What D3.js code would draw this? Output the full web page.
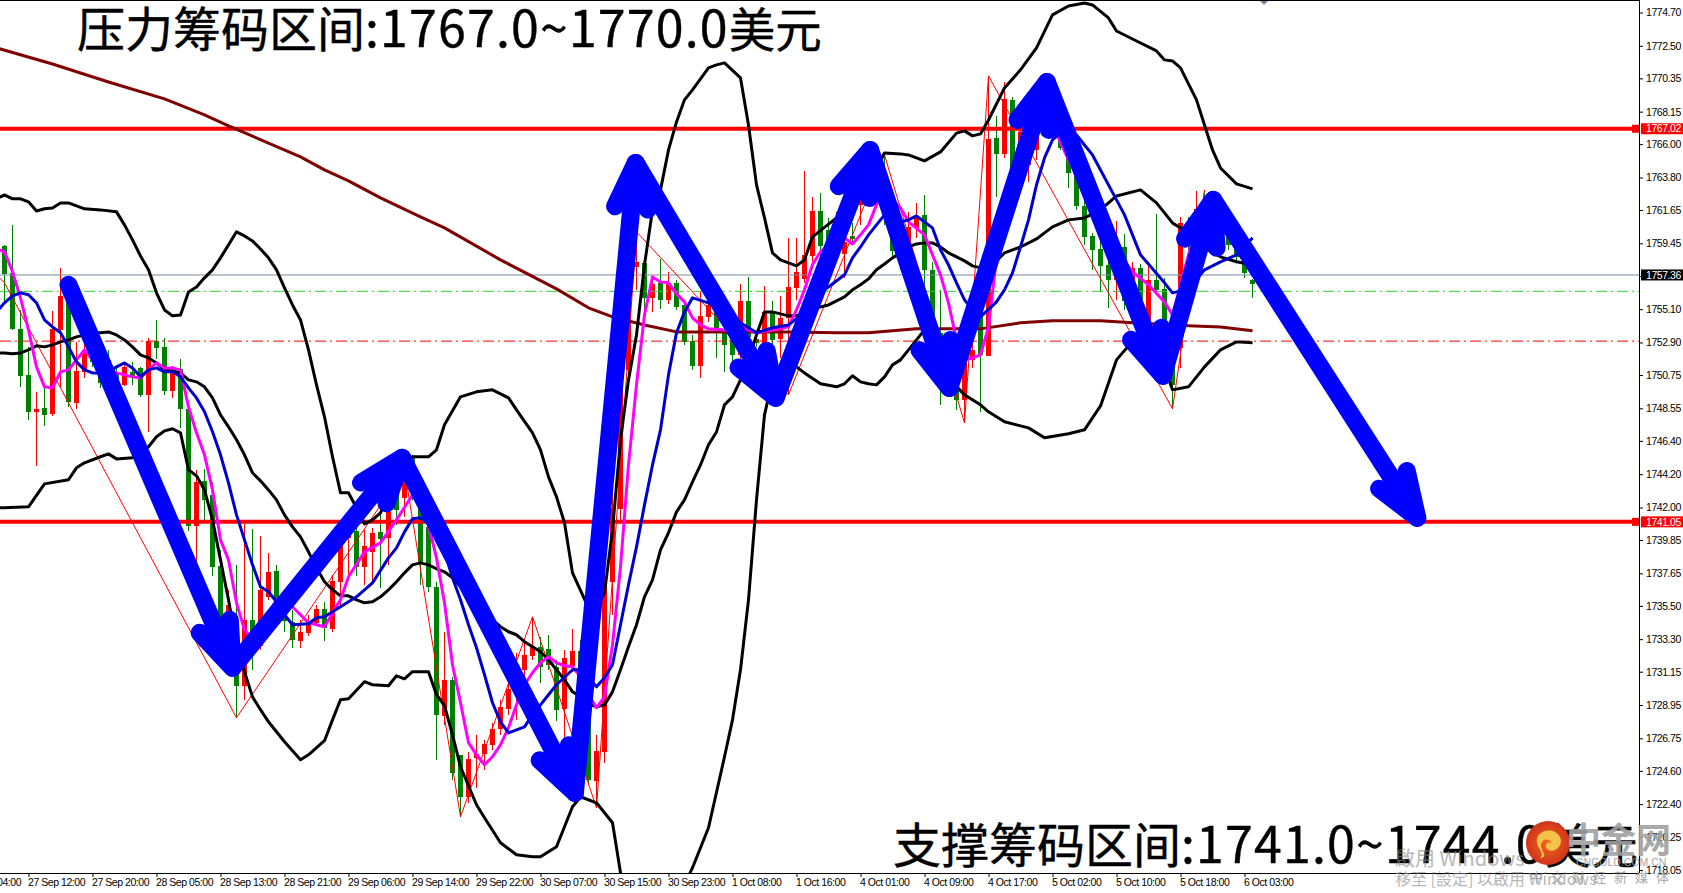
<!DOCTYPE html>
<html>
<head>
<meta charset="utf-8">
<script src="https://cdn.jsdelivr.net/npm/d3@7"></script>
<style>
body { margin: 0; background: #fff; overflow: hidden; }
.axis text { font-family: "Liberation Sans", sans-serif; font-size: 10.5px; letter-spacing: -0.45px; fill: #000; }
.axis line { stroke: #000; }
.big { font-family: "Noto Sans CJK SC", sans-serif; font-size: 48px; fill: #000; stroke: #000; stroke-width: 0.4px; }
.big .num { font-size: 50px; letter-spacing: 1.2px; }
.big .unit { font-size: 46.5px; }
.wm { font-family: "Noto Sans CJK TC", sans-serif; fill: #888; opacity: 0.6; }
.logo { font-family: "Noto Sans CJK SC", sans-serif; fill: #a0a0a0; opacity: 0.9; }
</style>
</head>
<body>
<svg id="svg"></svg>
<script>
var width = 1683, height = 893;

// candles, one entry per bar
var opens = [1759.28,1757.50,1753.80,1750.76,1748.32,1748.58,1748.19,1753.73,1755.91,1748.91,1750.96,1752.28,1751.29,1751.75,1750.83,1750.10,1750.96,1751.22,1749.44,1753.01,
	1752.61,1749.70,1751.16,1748.52,1740.79,1743.76,1742.84,1738.15,1734.25,1734.38,1730.22,1734.58,1732.86,1736.10,1737.82,1735.04,1734.45,1733.19,1733.72,1734.38,
	1735.31,1733.98,1737.09,1739.99,1740.46,1738.08,1739.07,1740.39,1739.99,1742.84,1742.64,1745.28,1742.04,1740.72,1736.76,1728.24,1730.61,1725.66,1722.89,1725.47,
	1725.73,1726.32,1727.38,1728.70,1729.96,1731.28,1732.20,1732.80,1732.66,1731.48,1728.70,1731.54,1732.53,1728.83,1723.95,1725.86,1737.09,1741.91,1751.09,1757.89,
	1758.16,1755.85,1756.84,1755.72,1756.84,1755.38,1753.01,1751.36,1754.59,1754.92,1753.73,1753.73,1752.08,1755.65,1753.14,1752.87,1754.86,1753.14,1754.53,1756.51,
	1757.10,1758.62,1761.59,1760.34,1759.35,1758.75,1759.94,1761.99,1762.85,1763.77,1763.64,1760.54,1759.88,1759.15,1760.47,1761.33,1757.70,1753.53,1750.76,1750.10,
	1749.11,1751.75,1755.05,1752.01,1766.41,1765.36,1768.93,1764.63,1764.63,1765.62,1767.27,1768.60,1766.75,1766.09,1764.17,1761.92,1759.94,1759.08,1758.03,1757.04,
	1759.22,1756.84,1757.83,1753.93,1757.04,1756.44,1754.39,1752.55,1760.80,1759.88,1761.99,1760.67,1761.33,1760.34,1759.68,1758.56,1757.04];
var highs = [1759.35,1760.67,1755.05,1752.61,1749.64,1749.90,1754.99,1757.83,1756.57,1752.94,1753.07,1752.74,1752.08,1752.41,1751.22,1751.49,1751.62,1751.29,1753.21,1754.39,
	1753.21,1751.36,1751.82,1748.78,1744.49,1744.55,1743.69,1739.20,1736.56,1738.21,1740.92,1740.59,1740.13,1739.00,1738.21,1735.90,1735.24,1734.58,1734.91,1735.57,
	1735.77,1737.55,1740.52,1740.85,1741.05,1740.52,1740.66,1741.85,1742.97,1743.50,1744.49,1745.48,1743.63,1741.85,1737.09,1733.79,1730.81,1725.66,1725.86,1726.98,
	1726.65,1727.77,1729.30,1730.61,1732.40,1733.26,1734.78,1733.45,1733.59,1731.94,1732.60,1733.98,1733.26,1729.30,1726.98,1737.75,1744.95,1752.41,1758.89,1760.21,
	1758.49,1757.23,1758.42,1757.56,1757.04,1755.72,1753.40,1756.24,1755.85,1755.45,1754.39,1754.39,1756.77,1757.23,1753.53,1756.64,1755.65,1755.98,1759.81,1759.81,
	1764.24,1762.52,1762.78,1761.13,1761.53,1760.34,1760.80,1763.97,1764.96,1765.49,1765.29,1761.33,1760.67,1761.53,1762.12,1762.65,1758.23,1756.38,1751.75,1750.56,
	1752.08,1752.88,1755.72,1770.51,1767.87,1770.11,1769.12,1767.27,1766.28,1767.93,1769.26,1769.26,1767.27,1766.41,1764.63,1762.32,1760.14,1760.34,1759.35,1760.93,
	1760.07,1758.23,1758.09,1758.23,1761.40,1757.17,1754.72,1761.20,1761.20,1762.92,1762.98,1762.65,1761.99,1760.87,1760.21,1759.02,1757.10];
var lows = [1755.58,1753.70,1749.97,1747.79,1744.75,1747.39,1748.05,1749.97,1748.65,1748.52,1750.56,1751.29,1749.90,1750.17,1749.90,1750.03,1750.10,1749.31,1746.96,1751.82,
	1749.44,1749.24,1747.26,1740.46,1737.68,1741.18,1737.49,1733.26,1732.60,1728.11,1729.30,1731.28,1732.60,1735.90,1735.11,1733.79,1732.73,1732.73,1733.52,1734.18,
	1733.19,1733.79,1735.50,1737.55,1737.49,1736.89,1737.09,1736.69,1738.21,1740.85,1741.38,1742.50,1736.89,1736.43,1725.33,1727.64,1724.01,1721.57,1722.49,1723.48,
	1724.67,1725.99,1726.98,1728.31,1727.97,1729.96,1731.94,1730.42,1731.28,1727.91,1726.45,1731.15,1728.90,1723.68,1722.16,1725.13,1734.91,1741.18,1750.43,1756.38,
	1754.39,1754.92,1755.12,1755.45,1755.05,1752.74,1751.09,1750.56,1754.26,1751.88,1750.96,1751.42,1751.09,1752.74,1752.61,1752.55,1752.41,1751.88,1749.44,1755.72,
	1756.84,1758.23,1758.23,1758.69,1759.02,1757.17,1759.35,1760.67,1761.99,1762.98,1760.67,1758.49,1757.70,1758.69,1759.81,1756.51,1753.07,1748.78,1749.44,1748.45,
	1747.59,1751.22,1748.32,1752.01,1762.52,1765.09,1763.77,1763.97,1763.51,1764.96,1766.61,1766.28,1765.62,1763.11,1761.66,1759.35,1757.70,1756.24,1755.19,1755.72,
	1755.05,1756.38,1755.32,1753.73,1756.05,1753.07,1748.52,1751.22,1758.69,1759.35,1760.34,1760.21,1759.35,1759.02,1758.23,1757.17,1755.85];
var closes = [1757.43,1753.80,1750.70,1748.32,1748.52,1748.12,1753.80,1755.98,1748.98,1751.03,1752.41,1751.62,1750.23,1750.56,1750.23,1751.29,1750.70,1749.44,1753.01,1752.55,
	1749.70,1751.09,1748.52,1740.79,1743.69,1742.50,1738.08,1734.12,1735.57,1730.22,1734.58,1733.06,1736.56,1737.75,1735.44,1734.51,1733.26,1733.79,1734.38,1735.31,
	1734.05,1737.16,1739.66,1740.39,1738.08,1739.47,1740.33,1739.93,1742.70,1741.85,1743.96,1742.97,1738.34,1736.76,1728.31,1730.61,1724.47,1722.89,1725.40,1725.73,
	1726.39,1727.38,1728.83,1730.02,1730.95,1732.27,1732.86,1731.48,1731.61,1728.64,1732.07,1732.53,1729.30,1724.01,1725.93,1737.09,1741.98,1751.09,1757.23,1758.23,
	1755.85,1756.77,1755.72,1756.84,1755.25,1752.94,1751.36,1754.66,1755.38,1753.87,1752.74,1752.08,1755.65,1753.27,1752.87,1754.92,1753.07,1754.53,1756.57,1757.56,
	1758.69,1761.59,1759.28,1759.15,1760.67,1759.55,1759.74,1762.98,1763.97,1764.63,1761.33,1758.95,1758.69,1760.54,1761.13,1757.70,1753.73,1750.76,1750.10,1749.11,
	1751.55,1752.41,1752.08,1766.35,1765.36,1768.99,1764.10,1766.81,1765.62,1767.27,1768.60,1766.75,1765.75,1764.10,1761.92,1759.88,1759.02,1757.96,1757.04,1757.70,
	1755.65,1757.83,1755.72,1757.04,1756.38,1753.93,1750.10,1760.80,1759.48,1761.73,1760.67,1761.66,1760.01,1759.35,1758.56,1757.50,1756.77];

// indicators, bars where each line was read and its price there
var upperBars = [-1,0,1,2,3,4,5,6,7,8,10,12,14,15,16,17,18,19,20,21,22,23,24,25,26,27,28,29,30,31,32,33,34,35,36,37,38,39,40,41,42,43,44,45,46,47,48,49,50,51,53,54,55,57,59,61,63,64,66,67,68,69,70,71,73,74,75,76,77,78,79,80,81,82,83,84,85,86,88,89,90,92,93,94,95,96,97,99,100,101,104,106,108,110,112,113,114,115,117,119,120,121,122,123,125,127,129,131,133,135,136,138,139,141,144,145,146,147,149,150,151,152,154,156];
var upperBand = [1762.39,1762.65,1762.39,1762.39,1762.19,1761.59,1761.73,1761.79,1762.12,1762.12,1761.73,1761.66,1761.53,1760.67,1759.68,1758.62,1757.70,1756.18,1755.05,1754.66,1754.72,1756.24,1756.57,1757.17,1757.70,1758.49,1759.35,1760.21,1759.94,1759.61,1759.08,1758.49,1757.70,1756.51,1755.38,1754.39,1752.41,1750.10,1747.99,1745.35,1742.97,1742.97,1741.98,1740.92,1741.18,1741.65,1742.70,1743.96,1745.15,1745.35,1745.35,1745.81,1747.46,1749.31,1749.64,1749.77,1749.24,1748.45,1746.93,1745.81,1744.02,1742.70,1740.99,1737.68,1735.37,1735.44,1736.36,1740.52,1746.47,1750.43,1753.40,1758.03,1761.66,1762.98,1765.62,1767.47,1768.93,1769.59,1771.04,1771.24,1771.37,1770.38,1767.27,1763.31,1761.13,1758.82,1758.36,1757.96,1758.36,1759.88,1761.13,1761.99,1763.64,1765.42,1765.36,1765.29,1765.09,1764.90,1765.49,1766.73,1766.88,1766.55,1766.68,1767.60,1769.72,1770.91,1772.36,1774.54,1775.13,1775.33,1775.20,1774.34,1773.48,1772.95,1772.16,1771.57,1771.50,1771.04,1768.93,1767.27,1765.62,1764.43,1763.38,1763.05];
var midBars = [-1,0,1,2,3,4,5,6,7,8,9,10,11,12,13,14,15,16,17,18,19,20,21,22,23,24,25,26,27,28,29,30,31,32,33,34,35,36,37,38,39,40,41,42,43,44,45,46,47,48,49,50,51,52,53,54,55,56,57,58,59,60,61,62,63,64,65,66,67,68,69,70,71,72,73,74,75,76,77,78,79,80,81,82,83,84,85,86,87,88,89,90,91,92,93,94,95,96,97,98,99,100,101,103,105,106,107,108,109,110,111,112,113,114,115,116,117,118,119,120,121,122,123,124,125,127,129,130,131,133,135,137,139,142,144,146,148,150,152,154,156];
var midBand = [1752.21,1752.21,1752.15,1752.21,1752.41,1752.68,1752.61,1752.74,1752.94,1753.07,1753.27,1753.40,1753.54,1753.54,1753.60,1753.40,1753.07,1752.61,1752.08,1751.88,1751.55,1751.09,1751.02,1750.89,1750.43,1750.30,1749.97,1749.24,1748.12,1747.33,1746.47,1745.48,1744.29,1743.76,1743.16,1742.50,1741.51,1740.72,1740.06,1739.07,1738.01,1737.09,1736.56,1736.16,1736.16,1735.90,1735.70,1735.77,1736.10,1736.56,1737.09,1737.68,1738.21,1738.34,1738.21,1737.95,1737.75,1737.35,1736.76,1736.03,1735.44,1735.04,1734.58,1734.12,1733.79,1733.59,1733.13,1732.80,1732.47,1731.94,1731.28,1730.61,1729.82,1729.49,1729.03,1728.83,1728.96,1729.82,1731.28,1732.80,1734.25,1736.10,1737.22,1739.20,1740.33,1741.71,1742.50,1743.69,1744.81,1746.14,1746.99,1748.78,1749.31,1750.43,1751.75,1753.40,1754.92,1754.92,1754.79,1754.66,1754.66,1754.86,1755.12,1755.38,1755.91,1756.38,1756.71,1757.10,1757.70,1758.09,1758.49,1758.82,1759.21,1759.41,1759.48,1759.48,1759.21,1758.82,1758.56,1758.29,1757.96,1757.83,1757.76,1758.29,1758.82,1759.21,1759.74,1760.14,1760.54,1761.00,1761.13,1761.66,1762.58,1762.98,1762.12,1760.80,1760.14,1759.15,1758.56,1758.23,1758.03];
var lowerBars = [-1,0,3,5,8,9,10,12,13,14,16,18,19,20,21,22,23,24,25,26,27,28,29,30,31,32,33,35,37,38,40,41,42,43,45,46,48,49,50,51,53,54,55,56,57,59,60,62,64,66,67,69,71,72,74,76,77,78,80,82,84,85,86,88,90,91,92,93,94,95,96,98,99,100,102,104,105,106,107,108,109,110,111,112,113,114,115,116,117,118,120,122,123,125,128,130,133,135,137,139,142,144,146,148,150,152,154,156];
var lowerBand = [1741.98,1741.98,1742.04,1743.56,1743.83,1744.62,1744.95,1745.35,1745.54,1745.21,1745.28,1746.01,1746.67,1747.06,1747.20,1746.93,1744.49,1744.09,1743.16,1741.18,1738.54,1735.90,1732.93,1731.15,1729.49,1728.64,1727.84,1726.52,1725.33,1725.66,1726.59,1727.97,1729.30,1729.36,1730.49,1730.29,1730.22,1730.88,1730.68,1731.15,1731.15,1729.63,1728.90,1726.98,1724.87,1722.36,1721.50,1719.85,1719.06,1718.93,1718.93,1719.59,1722.23,1722.89,1722.49,1721.17,1717.87,1715.76,1713.77,1713.44,1715.76,1717.08,1718.20,1720.84,1725.53,1727.97,1731.28,1735.90,1742.50,1748.12,1750.43,1751.22,1751.29,1750.89,1750.17,1749.97,1750.17,1750.70,1750.30,1750.17,1750.10,1750.63,1751.42,1751.75,1752.41,1753.07,1753.73,1754.06,1752.74,1750.56,1749.44,1748.78,1748.32,1747.66,1747.26,1746.60,1746.87,1747.13,1748.71,1751.75,1753.60,1752.74,1749.77,1749.97,1751.29,1752.41,1752.94,1752.88];
var fastBars = [-1,0,1,2,3,4,5,6,7,8,9,10,11,12,13,14,15,16,17,18,19,20,21,22,23,24,25,26,27,28,29,30,31,32,33,34,35,36,38,40,42,43,45,47,49,51,52,53,54,55,56,57,58,59,60,61,62,63,64,65,66,67,68,69,70,71,72,73,74,75,76,77,78,79,80,81,82,83,84,85,86,87,88,90,92,94,96,98,99,100,101,102,103,105,106,107,108,109,110,112,113,115,117,118,119,120,121,122,123,124,125,126,127,128,130,131,133,135,137,139,141,143,145,146,148,149,150,151,152,153,154,155,156];
var fastMa = [1759.08,1758.89,1757.57,1755.85,1753.73,1751.29,1749.97,1749.90,1750.96,1751.09,1751.75,1752.41,1751.75,1751.22,1750.96,1750.89,1750.76,1750.63,1750.56,1751.09,1751.55,1751.22,1751.22,1751.09,1748.65,1746.93,1745.48,1743.16,1739.86,1738.54,1735.70,1733.92,1733.26,1734.05,1734.91,1735.90,1735.90,1735.44,1734.38,1734.12,1735.90,1737.42,1739.07,1739.66,1741.18,1742.84,1742.50,1740.85,1738.67,1735.70,1731.61,1729.10,1726.46,1725.66,1725.00,1725.53,1726.32,1727.45,1728.96,1730.29,1731.08,1731.74,1732.14,1731.74,1731.54,1731.48,1730.82,1729.63,1728.77,1729.49,1732.93,1738.08,1744.81,1750.10,1754.72,1757.23,1756.90,1756.84,1756.11,1755.58,1754.53,1754.06,1753.80,1753.73,1753.93,1753.54,1753.73,1753.93,1755.05,1756.38,1758.03,1758.89,1759.35,1759.81,1759.41,1760.01,1760.67,1761.99,1762.85,1761.79,1760.87,1760.01,1757.37,1755.52,1753.07,1751.75,1751.88,1752.08,1753.93,1758.49,1761.33,1764.30,1766.28,1767.27,1767.74,1767.27,1764.96,1762.98,1760.67,1759.02,1757.57,1756.71,1755.58,1754.72,1758.69,1760.67,1761.99,1762.32,1761.53,1760.87,1760.21,1759.48,1758.76];
var slowBars = [-1,0,1,2,3,4,5,6,7,8,9,10,11,12,13,14,15,16,17,18,19,20,21,22,23,24,25,26,27,28,29,30,31,32,33,34,35,36,38,39,40,42,44,46,48,49,50,51,52,53,54,55,56,57,58,59,60,61,62,63,64,65,66,67,68,69,71,72,73,74,75,76,77,78,79,80,81,82,83,84,85,86,88,90,92,94,96,98,100,101,103,105,106,107,108,110,112,113,114,116,117,118,119,120,121,122,124,125,126,127,128,129,130,131,132,134,135,136,138,140,142,145,146,148,150,152,154,156];
var slowMa = [1754.92,1755.52,1755.98,1756.18,1756.05,1755.52,1754.39,1753.93,1753.54,1752.61,1751.62,1751.09,1750.89,1750.89,1750.96,1751.29,1751.55,1751.22,1750.63,1751.09,1751.22,1750.96,1750.96,1750.63,1749.90,1749.24,1748.32,1747.00,1745.48,1743.63,1741.51,1739.86,1738.21,1736.76,1736.43,1735.77,1734.91,1734.25,1734.32,1734.71,1734.78,1735.44,1736.10,1737.02,1738.67,1739.33,1740.39,1741.25,1741.32,1740.92,1740.19,1739.07,1737.35,1735.90,1734.25,1732.73,1730.95,1729.10,1727.84,1727.11,1727.31,1727.51,1728.31,1728.96,1729.63,1730.29,1731.28,1731.28,1730.75,1730.15,1730.75,1731.61,1734.25,1736.89,1739.40,1742.17,1744.81,1747.13,1750.76,1753.54,1754.92,1755.85,1755.52,1754.92,1754.20,1753.54,1753.87,1754.06,1754.86,1755.72,1756.57,1757.37,1758.49,1759.21,1760.01,1761.33,1760.87,1761.00,1761.26,1760.47,1759.02,1758.03,1756.84,1755.72,1755.05,1754.59,1755.58,1756.38,1757.50,1759.21,1761.00,1763.31,1765.09,1766.28,1766.75,1766.61,1765.95,1765.29,1763.31,1761.33,1758.69,1756.84,1756.18,1756.44,1757.70,1758.23,1758.69,1759.81];
var longBars = [-1,6,13,20,25,28,37,40,43,47,52,55,62,69,73,76,80,84,90,98,104,108,111,114,122,127,131,137,141,148,152,156];
var longMa = [1772.36,1771.30,1770.11,1768.99,1767.93,1767.21,1765.16,1764.30,1763.58,1762.45,1761.20,1760.47,1758.36,1756.44,1755.19,1754.59,1754.06,1753.60,1753.60,1753.60,1753.54,1753.54,1753.67,1753.80,1753.80,1754.20,1754.33,1754.33,1754.20,1754.00,1753.93,1753.67];
var zigBars = [-1,0,29,50,57,66,74,79,98,110,120,123,146,150];
var zigPrices = [1757.37,1756.84,1728.11,1744.49,1721.57,1734.78,1722.16,1760.21,1749.44,1765.29,1747.59,1770.51,1748.52,1762.98];

// hand drawn arrow path over the chart
var arrowBars = [8,28.5,49.7,71.3,78.9,96.4,108.2,118.1,130.3,144.8,151.1,176.6];
var arrowPrices = [1756.71,1731.41,1745.28,1723.15,1764.76,1749.24,1765.62,1749.90,1770.11,1750.70,1762.32,1741.32];

// price levels
var pressurePrice = 1767.02, supportPrice = 1741.05, lastPrice = 1757.36;
var greenLevel = 1756.28, redLevel = 1752.99;

// axis labels
var yTicks = [1774.70,1772.50,1770.35,1768.15,1766.00,1763.80,1761.65,1759.45,1757.30,1755.10,1752.90,1750.75,1748.55,1746.40,1744.20,1742.00,1739.85,1737.65,1735.50,1733.30,1731.15,1728.95,1726.75,1724.60,1722.40,1720.25,1718.05];
var xTickBars = [-5,3,11,19,27,35,43,51,59,67,75,83,91,99,107,115,123,131,139,147,155];
var xTickLabels = ["27 Sep 04:00","27 Sep 12:00","27 Sep 20:00","28 Sep 05:00","28 Sep 13:00","28 Sep 21:00","29 Sep 06:00","29 Sep 14:00","29 Sep 22:00","30 Sep 07:00","30 Sep 15:00","30 Sep 23:00","1 Oct 08:00","1 Oct 16:00","4 Oct 01:00","4 Oct 09:00","4 Oct 17:00","5 Oct 02:00","5 Oct 10:00","5 Oct 18:00","6 Oct 03:00"];

var plotRight = 1639, plotBottom = 873;
var svg = d3.select("#svg")
	.attr("width", width)
	.attr("height", height)
	.style("display", "block");

var x = d3.scaleLinear().domain([0, 156]).range([4.5, 1252.5]);
var y = d3.scaleLinear().domain([1718.05, 1774.70]).range([870, 12.5]);

svg.append("defs").append("clipPath")
	.attr("id", "plot")
	.append("rect")
	.attr("width", plotRight)
	.attr("height", plotBottom);

var plot = svg.append("g").attr("clip-path", "url(#plot)");

// candles
var candles = plot.selectAll("g.candle")
	.data(opens.map(function(d, i) { return i; }))
	.enter()
	.append("g")
	.attr("class", "candle")
	.attr("shape-rendering", "crispEdges")
	.attr("fill", function(i) { return closes[i] >= opens[i] ? "#ff0000" : "#008000"; });
candles.append("rect")
	.attr("x", function(i) { return x(i) - 0.5; })
	.attr("width", 1)
	.attr("y", function(i) { return y(highs[i]); })
	.attr("height", function(i) { return y(lows[i]) - y(highs[i]); });
candles.append("rect")
	.attr("x", function(i) { return x(i) - 2.5; })
	.attr("width", 5)
	.attr("y", function(i) { return y(Math.max(opens[i], closes[i])); })
	.attr("height", function(i) { return Math.max(1, Math.abs(y(opens[i]) - y(closes[i]))); });

// levels
function level(price, color, w, dash)
{
	plot.append("line")
		.attr("x1", 0)
		.attr("x2", plotRight)
		.attr("y1", y(price))
		.attr("y2", y(price))
		.attr("stroke", color)
		.attr("stroke-width", w)
		.attr("stroke-dasharray", dash);
}
level(lastPrice, "#778899", 1, null);
level(greenLevel, "#32cd32", 1, "11,4,2,4");
level(redLevel, "#ff0000", 1, "11,4,2,4");
level(pressurePrice, "#ff0000", 4, null);
level(supportPrice, "#ff0000", 4, null);

// indicators
function drawLine(bars, values, color, w)
{
	var line = d3.line()
		.x(function(d) { return x(d); })
		.y(function(d, i) { return y(values[i]); });
	plot.append("path")
		.attr("d", line(bars))
		.attr("fill", "none")
		.attr("stroke", color)
		.attr("stroke-width", w)
		.attr("stroke-linejoin", "round");
}
drawLine(zigBars, zigPrices, "#ff0000", 1);
drawLine(longBars, longMa, "#800000", 3);
drawLine(upperBars, upperBand, "#000000", 3);
drawLine(midBars, midBand, "#000000", 3);
drawLine(lowerBars, lowerBand, "#000000", 3);
drawLine(fastBars, fastMa, "#ff00ff", 3);
drawLine(slowBars, slowMa, "#0000cd", 3);

// small markers at the level ends and the chart shift mark
[pressurePrice, supportPrice].forEach(function(p)
{
	svg.append("rect")
		.attr("x", plotRight - 7)
		.attr("y", y(p) - 4)
		.attr("width", 7)
		.attr("height", 8)
		.attr("fill", "#ff0000");
});
svg.append("path")
	.attr("d", "M1259,0L1269,0L1264,5Z")
	.attr("fill", "#778899");

// arrows
var headLen = 48, headAngle = 20 * Math.PI / 180;
var arrows = svg.append("g")
	.attr("fill", "none")
	.attr("stroke", "#0000ff")
	.attr("stroke-width", 18)
	.attr("stroke-linecap", "round")
	.attr("stroke-linejoin", "round");
arrows.append("path")
	.attr("d", d3.line().x(function(d) { return x(d); }).y(function(d, i) { return y(arrowPrices[i]); })(arrowBars));
arrowBars.slice(1).forEach(function(b, i)
{
	var tx = x(b), ty = y(arrowPrices[i + 1]);
	var a = Math.atan2(y(arrowPrices[i]) - ty, x(arrowBars[i]) - tx);
	arrows.append("path")
		.attr("d", "M" + (tx + headLen * Math.cos(a - headAngle)) + "," + (ty + headLen * Math.sin(a - headAngle))
			+ "L" + tx + "," + ty
			+ "L" + (tx + headLen * Math.cos(a + headAngle)) + "," + (ty + headLen * Math.sin(a + headAngle)));
});

// axes
var axisX = svg.append("g")
	.attr("class", "axis")
	.attr("transform", "translate(0," + plotBottom + ")")
	.call(d3.axisBottom(x)
		.tickValues(xTickBars)
		.tickFormat(function(d, i) { return xTickLabels[i]; })
		.tickSizeOuter(0)
		.tickSize(4));
axisX.select(".domain").remove();
axisX.selectAll("text")
	.attr("text-anchor", "start")
	.attr("x", -1)
	.attr("y", 6)
	.attr("dy", "0.71em");
var axisY = svg.append("g")
	.attr("class", "axis")
	.attr("transform", "translate(" + plotRight + ",0)")
	.call(d3.axisRight(y)
		.tickValues(yTicks)
		.tickFormat(d3.format(".2f"))
		.tickSizeOuter(0)
		.tickSize(4));
axisY.select(".domain").remove();
axisY.selectAll("text").attr("x", 7);

svg.append("line").attr("x1", 0).attr("x2", plotRight).attr("y1", plotBottom + 0.5).attr("y2", plotBottom + 0.5).attr("stroke", "#000");
svg.append("line").attr("x1", 0).attr("x2", plotRight).attr("y1", 0.5).attr("y2", 0.5).attr("stroke", "#000");
svg.append("line").attr("x1", plotRight + 0.5).attr("x2", plotRight + 0.5).attr("y1", 0).attr("y2", plotBottom).attr("stroke", "#000");

// price boxes
function priceBox(price, fill)
{
	svg.append("rect")
		.attr("x", plotRight + 2)
		.attr("y", y(price) - 5.5)
		.attr("width", width - plotRight - 2)
		.attr("height", 11)
		.attr("fill", fill);
	svg.append("text")
		.attr("x", plotRight + 7)
		.attr("y", y(price))
		.attr("dy", "0.35em")
		.attr("fill", "#fff")
		.style("font-family", "Liberation Sans")
		.style("font-size", "10.5px")
		.style("letter-spacing", "-0.45px")
		.text(d3.format(".2f")(price));
}
priceBox(pressurePrice, "#ff0000");
priceBox(supportPrice, "#ff0000");
priceBox(lastPrice, "#000000");

// headline texts
function headline(px, py, head, nums)
{
	var t = svg.append("text")
		.attr("class", "big")
		.attr("x", px)
		.attr("y", py);
	t.append("tspan").text(head);
	t.append("tspan").attr("class", "num").text(nums);
	t.append("tspan").attr("class", "unit").text("美元");
}
headline(77, 47, "压力筹码区间", ":1767.0~1770.0");
headline(893, 863, "支撑筹码区间", ":1741.0~1744.0");

// windows activation watermark
svg.append("text").attr("class", "wm").attr("x", 1395).attr("y", 866).style("font-size", "20px").text("啟用 Windows");
svg.append("text").attr("class", "wm").attr("x", 1395).attr("y", 885).style("font-size", "16px").text("移至 [設定] 以啟用 Windows");

// site logo
var grad = svg.select("defs").append("radialGradient").attr("id", "logoFill");
grad.append("stop").attr("offset", "0%").attr("stop-color", "#f06a1e");
grad.append("stop").attr("offset", "100%").attr("stop-color", "#d0341a");
svg.append("circle").attr("cx", 1548).attr("cy", 843).attr("r", 22).attr("fill", "url(#logoFill)");
svg.append("path")
	.attr("d", "M1537,843C1535,833 1547,828 1555,832C1563,836 1563,846 1555,850C1550,852 1545,849 1546,845C1547,842 1551,842 1552,844C1550,838 1542,838 1541,845C1541,852 1549,857 1540,858C1545,853 1538,849 1537,843Z")
	.attr("fill", "#f7c24a");
svg.append("text").attr("class", "logo").attr("x", 1566).attr("y", 853).style("font-size", "35px").style("font-weight", "700").text("中金网");
svg.append("text").attr("class", "logo").attr("x", 1576).attr("y", 866).style("font-size", "10.5px").style("font-family", "Liberation Sans").text("CNGOLD.COM.CN");
svg.append("text").attr("class", "logo").attr("x", 1530).attr("y", 882).style("font-size", "13px").style("letter-spacing", "8px").text("中文财经新媒体");
</script>
</body>
</html>
